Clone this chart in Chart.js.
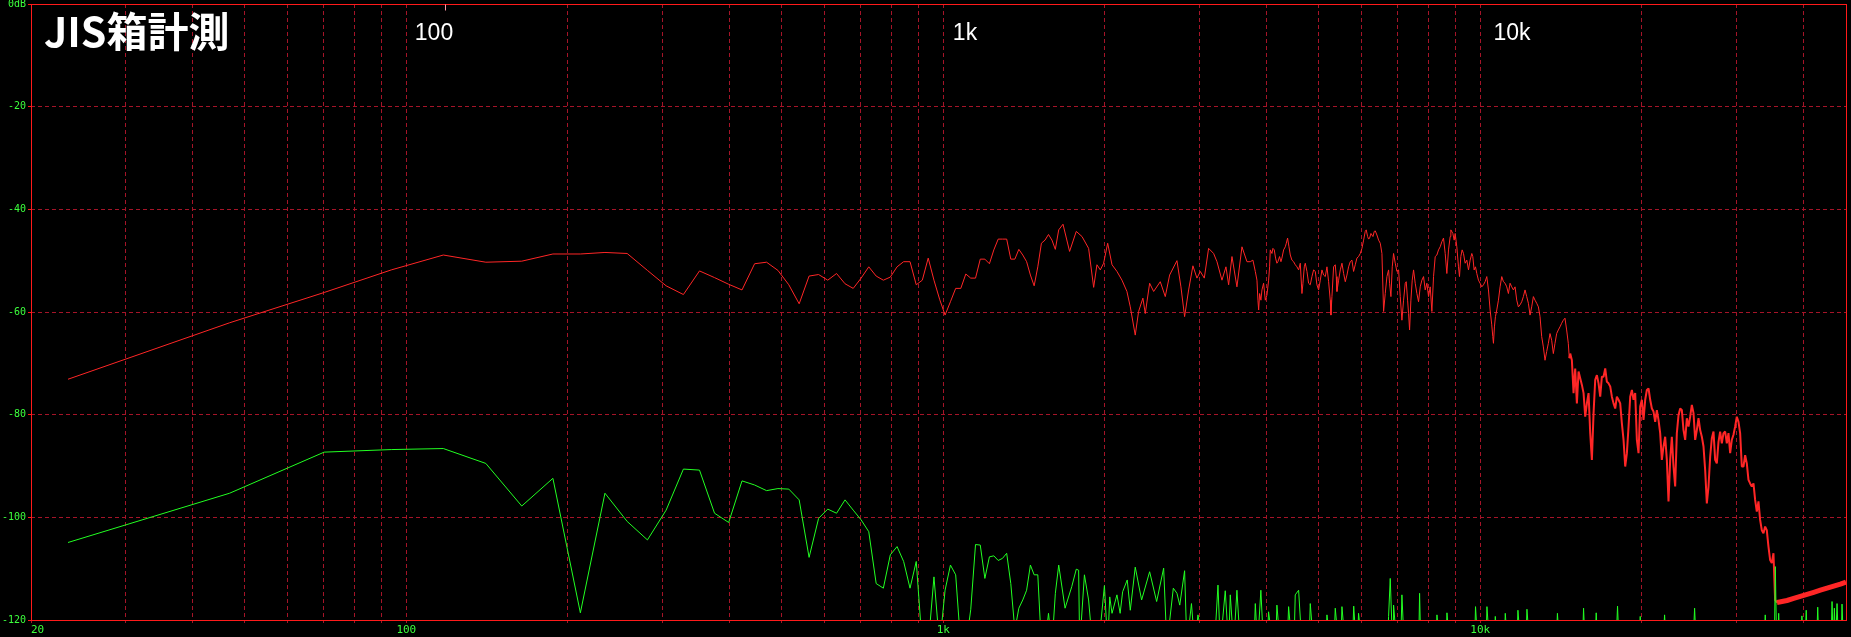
<!DOCTYPE html>
<html>
<head>
<meta charset="utf-8">
<script src="https://cdn.jsdelivr.net/npm/chart.js@4.4.1/dist/chart.umd.min.js"></script>
<style>
  html, body { margin: 0; padding: 0; background: #000; }
</style>
</head>
<body>
<canvas id="fr" width="1851" height="637"></canvas>
<script>
// ---- data: [Hz, dB]
const redPoints = [
  [23.44,-73.1],[46.88,-62.1],[70.31,-56.2],[93.75,-51.8],[117.19,-48.9],[140.63,-50.3],[164.06,-50.1],
  [187.5,-48.7],[210.94,-48.7],[234.38,-48.4],[257.81,-48.6],[281.25,-51.9],[304.69,-54.9],[328.13,-56.6],
  [351.56,-52.0],[375,-53.3],[398.44,-54.6],[421.88,-55.7],[445.31,-50.6],[468.75,-50.3],[492.19,-51.9],
  [515.63,-54.7],[539.06,-58.4],[562.5,-53.0],[585.94,-52.7],[609.38,-53.8],[632.81,-52.5],[656.25,-54.5],
  [679.69,-55.4],[703.13,-53.4],[726.56,-51.2],[750,-53.0],[773.44,-53.8],[796.88,-53.2],[820.31,-51.2],
  [843.75,-50.2],[867.19,-50.2],[890.63,-54.7],[914.06,-53.8],[937.5,-49.5],[960.94,-53.8],[984.38,-57.5],
  [1007.8,-60.6],[1031.3,-58.0],[1054.7,-55.4],[1078.1,-55.4],[1101.6,-52.6],[1125,-53.4],[1148.4,-53.4],
  [1171.9,-49.7],[1195.3,-49.7],[1218.8,-50.6],[1242.2,-47.9],[1265.6,-45.8],[1289.1,-45.8],[1312.5,-45.8],
  [1335.9,-49.7],[1359.4,-49.7],[1382.8,-47.8],[1406.3,-48.9],[1429.7,-50.2],[1453.1,-52.8],[1476.6,-54.9],
  [1500,-51.2],[1523.4,-46.6],[1546.9,-46.0],[1570.3,-44.9],[1593.8,-46.0],[1617,-47.8],[1640.6,-44.0],
  [1671,-42.9],[1719,-48.2],[1769,-44.3],[1813,-45.3],[1865,-47.6],[1906,-55.2],[1933,-50.8],[1961,-51.8],
  [1989,-50.5],[2024,-46.6],[2062,-50.8],[2106,-52.1],[2152,-53.8],[2198,-56.0],[2230,-59.0],[2278,-64.5],
  [2311,-59.9],[2354,-57.3],[2378,-60.3],[2423,-54.4],[2465,-56.0],[2536,-54.1],[2591,-57.0],[2640,-52.8],
  [2724,-50.0],[2771,-55.1],[2815,-60.9],[2864,-55.7],[2917,-51.0],[2968,-53.4],[3011,-52.1],[3063,-53.4],
  [3120,-47.6],[3188,-48.6],[3234,-50.2],[3304,-53.8],[3361,-51.2],[3400,-54.7],[3449,-49.2],[3523,-55.1],
  [3600,-47.3],[3678,-50.2],[3731,-50.2],[3773,-49.9],[3812,-52.1],[3839,-53.8],[3855,-57.7],[3867,-59.6],
  [3883,-56.4],[3905,-57.7],[3922,-55.7],[3950,-54.4],[3979,-57.7],[4007,-56.7],[4036,-53.8],[4053,-51.2],
  [4065,-47.9],[4094,-48.6],[4111,-47.6],[4135,-47.9],[4158,-49.5],[4182,-50.5],[4200,-50.2],[4230,-49.2],
  [4255,-50.2],[4273,-49.5],[4304,-47.9],[4335,-47.3],[4354,-46.6],[4378,-45.6],[4404,-47.3],[4429,-48.9],
  [4460,-49.9],[4492,-50.2],[4525,-50.8],[4557,-51.2],[4590,-51.8],[4623,-50.5],[4656,-56.4],[4676,-54.4],
  [4703,-51.2],[4723,-50.5],[4757,-52.1],[4791,-54.4],[4825,-54.7],[4860,-53.1],[4895,-51.8],[4930,-52.1],
  [4965,-54.7],[5001,-55.7],[5037,-53.8],[5073,-51.8],[5109,-52.8],[5146,-53.1],[5183,-51.2],[5220,-54.1],
  [5257,-57.7],[5272,-60.6],[5295,-57.0],[5333,-51.2],[5371,-50.8],[5394,-53.1],[5410,-56.0],[5449,-53.8],
  [5488,-51.8],[5527,-50.5],[5567,-52.5],[5607,-54.1],[5647,-52.8],[5687,-51.2],[5728,-50.2],[5769,-49.9],
  [5810,-52.1],[5852,-50.8],[5894,-49.5],[5936,-49.2],[5979,-48.6],[6022,-47.6],[6065,-46.0],[6108,-44.3],
  [6134,-44.0],[6170,-45.3],[6196,-45.8],[6223,-45.6],[6259,-44.7],[6313,-45.3],[6349,-44.3],[6376,-44.2],
  [6422,-45.0],[6468,-46.0],[6514,-46.6],[6561,-48.6],[6608,-59.9],[6655,-56.4],[6703,-53.1],[6751,-51.8],
  [6780,-54.4],[6819,-57.0],[6858,-51.2],[6897,-48.6],[6947,-50.5],[6996,-52.1],[7047,-51.8],[7097,-57.0],
  [7148,-61.6],[7199,-57.7],[7251,-54.4],[7282,-54.1],[7324,-57.7],[7355,-60.3],[7387,-63.5],[7429,-57.7],
  [7471,-53.8],[7514,-51.8],[7568,-54.4],[7622,-56.4],[7677,-58.0],[7732,-55.1],[7787,-53.8],[7843,-53.1],
  [7899,-55.7],[7956,-54.4],[8013,-57.0],[8070,-55.1],[8128,-59.9],[8186,-53.1],[8245,-49.2],[8304,-48.9],
  [8363,-47.9],[8423,-47.3],[8484,-46.3],[8544,-45.6],[8606,-48.6],[8667,-52.5],[8729,-47.9],[8792,-45.3],
  [8817,-44.0],[8893,-44.7],[8944,-46.0],[8982,-44.7],[9046,-47.3],[9111,-51.2],[9150,-53.1],[9202,-49.2],
  [9255,-47.9],[9308,-48.6],[9375,-50.5],[9442,-49.9],[9510,-51.8],[9578,-49.9],[9646,-48.6],[9687,-49.2],
  [9743,-51.8],[9799,-51.2],[9855,-52.5],[9925,-53.8],[9996,-54.4],[10068,-55.1],[10140,-54.7],[10213,-54.1],
  [10286,-53.1],[10360,-55.7],[10434,-59.6],[10508,-62.5],[10554,-64.8],[10584,-66.1],[10629,-62.9],
  [10675,-60.9],[10736,-59.6],[10813,-57.7],[10890,-55.1],[10968,-53.1],[11047,-54.1],[11126,-54.4],
  [11205,-55.1],[11286,-56.4],[11366,-54.4],[11448,-55.1],[11530,-55.7],[11612,-55.1],[11696,-57.7],
  [11779,-59.0],[11864,-58.6],[11949,-58.0],[12034,-57.0],[12120,-55.7],[12207,-57.0],[12295,-58.3],
  [12383,-60.6],[12471,-59.0],[12561,-57.0],[12651,-57.7],[12741,-58.3],[12833,-59.0],[12924,-60.9],
  [13017,-64.8],[13110,-66.8],[13204,-69.4],[13298,-67.7],[13394,-66.1],[13489,-64.2],[13586,-65.5],
  [13683,-68.1],[13781,-66.1],[13880,-64.2],[13979,-63.5],[14079,-62.9],[14180,-62.2],[14281,-61.6],
  [14384,-61.2],[14487,-63.5],[14590,-66.1],[14653,-69.0],
  [14711,-68.1],[14816,-69.4],[14922,-75.8],[15029,-71.0],[15137,-77.8],[15246,-71.6],[15355,-72.9],
  [15466,-74.2],[15577,-75.8],[15688,-80.4],[15800,-77.8],[15914,-75.8],[16028,-83.6],[16143,-88.8],
  [16259,-79.7],[16376,-73.2],[16493,-72.3],[16611,-73.9],[16730,-76.5],[16850,-72.6],[16971,-72.6],
  [17093,-71.0],[17215,-73.6],[17339,-73.9],[17463,-74.5],[17588,-76.5],[17714,-77.8],[17841,-78.8],
  [17969,-76.5],[18098,-77.1],[18228,-77.8],[18359,-81.7],[18490,-84.9],[18623,-90.1],[18757,-87.5],
  [18891,-82.3],[19027,-76.5],[19163,-75.2],[19300,-77.1],[19438,-75.8],[19577,-84.9],[19718,-87.5],
  [19859,-78.4],[20002,-77.1],[20145,-81.0],[20290,-77.1],[20435,-75.2],[20582,-74.9],[20729,-77.1],
  [20877,-78.8],[21027,-79.4],[21178,-81.4],[21329,-79.1],[21482,-81.0],[21636,-83.6],[21791,-88.8],
  [21948,-86.2],[22105,-84.3],[22263,-88.8],[22423,-96.9],[22584,-88.8],[22746,-84.3],[22909,-90.1],
  [23073,-94.0],[23238,-83.6],[23405,-80.1],[23573,-78.8],[23742,-79.1],[23912,-83.0],[24084,-84.9],
  [24257,-80.7],[24431,-82.3],[24606,-80.4],[24782,-78.1],[24960,-79.7],[25139,-84.9],[25319,-83.0],
  [25501,-80.7],[25683,-83.0],[25867,-84.3],[26053,-86.2],[26240,-90.8],[26428,-97.3],[26617,-94.0],
  [26808,-88.2],[27000,-84.6],[27194,-83.3],[27389,-88.8],[27585,-89.5],[27782,-85.3],[27981,-83.3],
  [28182,-85.6],[28384,-83.6],[28587,-83.3],[28792,-85.6],[28999,-83.6],[29206,-87.5],[29416,-84.9],
  [29627,-83.9],[29840,-82.3],[30054,-80.4],[30269,-81.4],[30486,-83.6],[30705,-90.1],[30925,-90.1],
  [31147,-87.9],[31370,-89.5],[31594,-92.7],[31821,-93.4],[32049,-94.0],[32279,-93.4],[32510,-96.6],
  [32743,-98.9],[32978,-96.9],[33214,-100.5],[33452,-102.5],[33692,-103.1],[33934,-101.8],[34177,-102.5],
  [34422,-105.7],[34669,-108.3],[34917,-108.9],[35167,-107.0],[35419,-116.1],
  [35706,-116.6],[37272,-116.2],[38354,-115.8],[39468,-115.4],[40613,-115.0],[41793,-114.6],
  [43005,-114.2],[44253,-113.8],[45538,-113.4],[46861,-113.0],[48000,-112.6]
];

const greenPoints = [
  [23.44,-104.9],[46.88,-95.3],[70.31,-87.3],[93.75,-86.8],[117.19,-86.6],[140.63,-89.5],[164.06,-97.8],
  [187.5,-92.4],[210.94,-118.6],[234.38,-95.3],[257.81,-100.8],[281.25,-104.4],[304.69,-98.6],[328.13,-90.6],
  [351.56,-90.8],[375,-99.2],[398.44,-101.0],[421.88,-92.9],[445.31,-93.7],[468.75,-94.8],[492.19,-94.4],
  [515.63,-94.5],[539.06,-96.6],[562.5,-107.8],[585.94,-100.2],[609.38,-98.4],[632.81,-99.2],[656.25,-96.6],
  [679.69,-98.6],[703.13,-100.5],[726.56,-102.8],[750,-112.9],[773.44,-113.8],[796.88,-107.3],[820.31,-105.7],
  [843.75,-108.6],[867.19,-113.8],[890.63,-108.6],[914.06,-125],[937.5,-125],[960.94,-111.6],[984.38,-125],
  [1007.8,-114.2],[1031.3,-109.3],[1054.7,-111.2],[1078.1,-125],[1101.6,-125],[1125,-118],[1148.4,-105.3],
  [1171.9,-105.4],[1195.3,-111.9],[1218.8,-107.7],[1242.2,-107.5],[1265.6,-108.4],[1289.1,-108.0],
  [1312.5,-107.0],[1335.9,-112.9],[1359.4,-122],[1382.8,-117.7],[1406.3,-116.1],[1429.7,-114.2],
  [1453.1,-109.3],[1476.6,-111.2],[1500,-111.2],[1523.4,-125],[1546.9,-125],[1570.3,-118.7],[1593.8,-125],
  [1617.2,-114.8],[1640.6,-109.3],[1686,-117.7],[1735,-113.5],[1769,-110.1],[1787,-110.3],[1795,-125],
  [1832,-111.2],[1865,-116.1],[1897,-125],[1947,-125],[1996,-113.3],[2024,-125],[2042,-115.5],[2062,-118.7],
  [2106,-115.1],[2135,-118.7],[2158,-114.5],[2201,-112.2],[2230,-118.1],[2278,-109.7],[2341,-116.1],
  [2423,-110.6],[2497,-116.4],[2573,-109.9],[2609,-125],[2682,-113.8],[2724,-114.8],[2757,-117.1],
  [2815,-110.4],[2843,-125],[2899,-116.8],[2940,-125],[2981,-119.0],[3054,-125],[3200,-125],[3248,-113.2],
  [3281,-125],[3351,-114.3],[3400,-125],[3424,-115.1],[3474,-125],[3523,-114.2],[3574,-125],[3790,-125],
  [3812,-116.8],[3849,-125],[3904,-114.2],[3949,-125],[4010,-125],[4035,-118.4],[4110,-125],[4160,-125],
  [4182,-117.1],[4242,-125],[4370,-125],[4397,-117.4],[4460,-125],[4500,-125],[4524,-115.1],[4590,-114.2],
  [4656,-125],[4800,-125],[4825,-116.8],[4895,-125],[5150,-125],[5183,-119.0],[5257,-125],[5340,-125],
  [5371,-117.7],[5449,-125],[5500,-125],[5527,-117.4],[5607,-125],[5780,-125],[5813,-117.3],[5877,-125],
  [5905,-125],[5935,-118.7],[6022,-125],[6720,-125],[6751,-119.3],[6799,-111.9],[6867,-125],[6880,-125],
  [6897,-117.1],[6996,-125],[7110,-125],[7148,-115.1],[7218,-125],[7680,-125],[7711,-114.8],[7751,-125],
  [8270,-125],[8307,-119.0],[8402,-125],[8630,-125],[8671,-118.6],[8771,-125],[9760,-125],[9801,-117.4],
  [9899,-125],[10250,-125],[10293,-117.4],[10410,-125],[10620,-125],[10668,-119.3],[10769,-125],
  [11090,-125],[11135,-118.7],[11244,-125],[11700,-125],[11756,-118.1],[11891,-125],[12160,-125],
  [12219,-117.9],[12359,-125],[13850,-125],[13925,-118.7],[14050,-125],[15500,-125],[15577,-117.7],
  [15680,-125],[16350,-125],[16445,-118.6],[16560,-125],[17900,-125],[18020,-117.3],[18140,-125],
  [19750,-125],[19862,-119.3],[19990,-125],[21900,-125],[22049,-119.0],[22200,-125],[24900,-125],
  [25077,-117.7],[25250,-125],[33750,-125],[33951,-119.0],[34150,-125],[35300,-125],[35451,-109.6],
  [35650,-125],[35800,-125],[35963,-118.7],[36150,-125],[39500,-125],[39728,-119.2],[40000,-125],
  [40250,-125],[40473,-118.1],[40700,-125],[42300,-125],[42519,-117.5],[42750,-125],[45000,-125],
  [45214,-116.4],[45450,-125],[45668,-117.7],[45900,-125],[46190,-116.8],[46500,-125],[47000,-125],
  [47188,-116.9],[47500,-125],[48000,-125]
];

// grid lines on the frequency axis, and which of them get a label
const gridFreqs = [20,30,40,50,60,70,80,90,100,200,300,400,500,600,700,800,900,
  1000,2000,3000,4000,5000,6000,7000,8000,9000,10000,20000,30000,40000];
const freqLabels = { 20: '20', 100: '100', 1000: '1k', 10000: '10k' };
const topLabels = ['100', '1k', '10k'];
const titleText = 'JIS箱計測';

const GRID = 'rgb(165,20,40)';
const FRAME = '#ff1a1a';
const LABEL = '#3cff3c';
const tickFont = { family: "'DejaVu Sans Mono', monospace", size: 10 };

// frame, background and the overlay texts
const framePlugin = {
  id: 'frame',
  beforeDraw(chart) {
    const ctx = chart.ctx;
    ctx.save();
    ctx.fillStyle = '#000';
    ctx.fillRect(0, 0, chart.width, chart.height);
    ctx.restore();
  },
  afterDraw(chart) {
    const { ctx, chartArea: a } = chart;
    ctx.save();
    ctx.strokeStyle = FRAME;
    ctx.lineWidth = 1;
    const x0 = Math.round(a.left) + 0.5, y0 = Math.round(a.top) + 0.5;
    const x1 = Math.round(a.right) + 0.5, y1 = Math.round(a.bottom) + 0.5;
    ctx.strokeRect(x0, y0, x1 - x0, y1 - y0);

    // small marker on the top edge
    ctx.strokeStyle = '#ff9aa8';
    ctx.beginPath();
    ctx.moveTo(445.5, y0);
    ctx.lineTo(445.5, y0 + 6);
    ctx.stroke();

    ctx.fillStyle = '#fff';
    ctx.textBaseline = 'alphabetic';
    ctx.font = "bold 41px 'Noto Sans CJK JP', sans-serif";
    ctx.textAlign = 'left';
    ctx.fillText(titleText, 44, 47);

    ctx.font = "23px 'Liberation Sans', Arial, sans-serif";
    ctx.textAlign = 'center';
    const xs = [434, 965, 1512];
    topLabels.forEach((t, i) => ctx.fillText(t, xs[i], 40));
    ctx.restore();
  }
};

const toXY = pts => pts.map(p => ({ x: p[0], y: p[1] }));

// the trace gets denser (and reads thicker) toward the top of the band
const redWidth = c => {
  const f = redPoints[c.p0DataIndex][0];
  if (f >= 35500) return 5;
  if (f >= 14600) return 2;
  return 1;
};

new Chart(document.getElementById('fr'), {
  type: 'line',
  data: {
    datasets: [
      { data: toXY(greenPoints), borderColor: '#22ff22', borderWidth: 1, pointRadius: 0, tension: 0 },
      { data: toXY(redPoints), borderColor: '#ff2626', borderWidth: 1, pointRadius: 0, tension: 0,
        borderJoinStyle: 'bevel', segment: { borderWidth: redWidth } }
    ]
  },
  options: {
    responsive: false,
    animation: false,
    events: [],
    layout: { padding: { top: 4, right: 5, left: 0, bottom: 0 } },
    plugins: { legend: { display: false }, tooltip: { enabled: false } },
    scales: {
      x: {
        type: 'logarithmic',
        min: 20,
        max: 48000,
        afterBuildTicks: s => { s.ticks = gridFreqs.map(v => ({ value: v })); },
        afterFit: s => { s.height = 17; s.paddingLeft = 0; s.paddingRight = 0; },
        grid: { color: GRID, lineWidth: 1, drawTicks: true, tickLength: 3, tickColor: GRID },
        border: { display: false, dash: [4, 3] },
        ticks: {
          autoSkip: false, maxRotation: 0, minRotation: 0, align: 'inner', padding: 1,
          color: LABEL, font: { family: tickFont.family, size: 11 },
          callback: v => freqLabels[v] || ''
        }
      },
      y: {
        min: -120,
        max: 0,
        afterFit: s => { s.width = 31; s.paddingTop = 0; s.paddingBottom = 0; },
        grid: { color: GRID, lineWidth: 1, drawTicks: true, tickLength: 3, tickColor: FRAME },
        border: { display: false, dash: [4, 3] },
        ticks: {
          stepSize: 20, padding: 2, color: LABEL, font: tickFont,
          callback: v => (v === 0 ? '0dB' : String(v))
        }
      }
    }
  },
  plugins: [framePlugin]
});
</script>
</body>
</html>
